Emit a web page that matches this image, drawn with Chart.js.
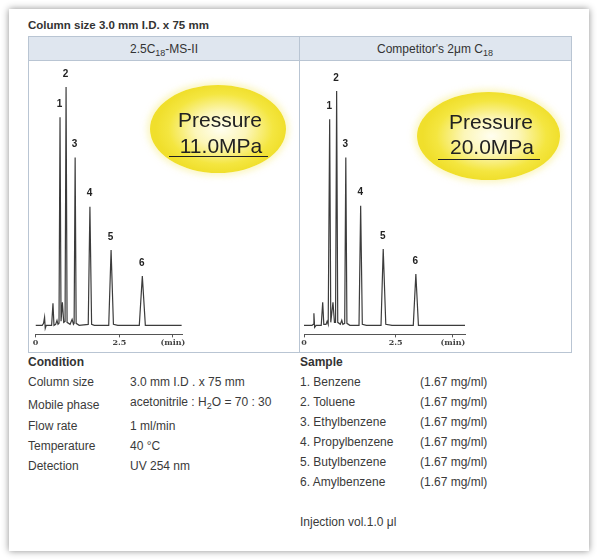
<!DOCTYPE html>
<html>
<head>
<meta charset="utf-8">
<script src="https://cdn.jsdelivr.net/npm/chart.js@4/dist/chart.umd.min.js"></script>
<style>
  body { margin: 0; background: #fff; font-family: Arial, "Liberation Sans", sans-serif; color: #333; }
  #page { position: relative; width: 599px; height: 560px; overflow: hidden; }
  .card { position: absolute; left: 9px; top: 9px; width: 580px; height: 542px; background: #fff;
          box-shadow: 0 0 7px rgba(0,0,0,0.45); }
  .abs { position: absolute; white-space: nowrap; line-height: 14px; }
  .tbl { position: absolute; left: 28px; top: 36px; width: 542px; height: 315px; border: 1px solid #b9c5d3; }
  .head { position: absolute; left: 0; top: 0; width: 542px; height: 23px; background: #dfe6ef; border-bottom: 1px solid #b9c5d3; }
  .divider { position: absolute; left: 270px; top: 0; width: 1px; height: 315px; background: #b9c5d3; }
  .hcell { position: absolute; top: 5px; width: 270px; text-align: center; font-size: 12px; color: #333; line-height: 14px; }
  sub { font-size: 9px; vertical-align: -3px; line-height: 0; }
  canvas { position: absolute; }
  .oval { position: absolute; border-radius: 50%;
          background: radial-gradient(ellipse closest-side at 52% 50%, #fffef0 0%, #fcf6b8 40%, #f4e640 80%, #f0df2c 100%);
          box-shadow: 0 0 6px 3px rgba(250,242,170,0.7); }
  .ptxt { position: absolute; font-size: 21px; color: #222; text-align: center; line-height: 22px; }
  .uline { position: absolute; height: 1px; background: #222; }
  .body12 { font-size: 12px; color: #3a3a3a; }
  .bold { font-weight: bold; color: #333; }
</style>
</head>
<body>
<div id="page">
  <div class="card"></div>
  <div class="abs bold" style="left:28px; top:18px; font-size:11.5px;">Column size 3.0 mm I.D. x 75 mm</div>

  <div class="tbl">
    <div class="head"></div>
    <div class="divider"></div>
    <div class="hcell" style="left:0;">2.5C<sub>18</sub>-MS-II</div>
    <div class="hcell" style="left:271px;">Competitor's 2μm C<sub>18</sub></div>
  </div>

  <canvas id="leftChart" width="269" height="291" style="left:29px; top:61px;"></canvas>
  <canvas id="rightChart" width="271" height="291" style="left:299px; top:61px;"></canvas>

  <div class="oval" style="left:150px; top:85px; width:136px; height:88px;"></div>
  <div class="ptxt" style="left:150px; top:109px; width:140px;">Pressure</div>
  <div class="ptxt" style="left:150px; top:135px; width:142px;">11.0MPa</div>
  <div class="uline" style="left:169px; top:156px; width:99px;"></div>

  <div class="oval" style="left:417px; top:92px; width:143px; height:88px;"></div>
  <div class="ptxt" style="left:420px; top:111px; width:142px;">Pressure</div>
  <div class="ptxt" style="left:420px; top:136px; width:144px;">20.0MPa</div>
  <div class="uline" style="left:438px; top:159px; width:102px;"></div>

  <div class="abs bold" style="left:28px; top:355px; font-size:12px;">Condition</div>
  <div class="abs body12" style="left:28px; top:375px;">Column size</div>
  <div class="abs body12" style="left:130px; top:375px;">3.0 mm I.D . x 75 mm</div>
  <div class="abs body12" style="left:28px; top:398px;">Mobile phase</div>
  <div class="abs body12" style="left:130px; top:395px;">acetonitrile : H<sub>2</sub>O = 70 : 30</div>
  <div class="abs body12" style="left:28px; top:419px;">Flow rate</div>
  <div class="abs body12" style="left:130px; top:419px;">1 ml/min</div>
  <div class="abs body12" style="left:28px; top:439px;">Temperature</div>
  <div class="abs body12" style="left:130px; top:439px;">40 °C</div>
  <div class="abs body12" style="left:28px; top:459px;">Detection</div>
  <div class="abs body12" style="left:130px; top:459px;">UV 254 nm</div>

  <div class="abs bold" style="left:300px; top:355px; font-size:12px;">Sample</div>
  <div id="samples"></div>
  <div class="abs body12" style="left:300px; top:515px;">Injection vol.1.0 μl</div>
</div>

<script>
// sample list
const sampleNames = ['1. Benzene', '2. Toluene', '3. Ethylbenzene', '4. Propylbenzene', '5. Butylbenzene', '6. Amylbenzene'];
const sampleConc = ['(1.67 mg/ml)', '(1.67 mg/ml)', '(1.67 mg/ml)', '(1.67 mg/ml)', '(1.67 mg/ml)', '(1.67 mg/ml)'];

// 2.5C18-MS-II trace (time in min, signal)
const leftTime   = [0, 0.20, 0.24, 0.27, 0.29, 0.32, 0.48, 0.52, 0.55, 0.60, 0.64, 0.67, 0.70, 0.73, 0.76, 0.80, 0.84, 0.88, 0.91, 0.94, 1.03, 1.09, 1.13, 1.15, 1.18, 1.21, 1.30, 1.57, 1.62, 1.67, 1.75, 2.18, 2.25, 2.32, 2.45, 3.09, 3.18, 3.27, 3.50, 4.35];
const leftSignal = [0, 0, 2, 8, -3, 0, 0, 22, 0, 1, 5, 1, 2, 207, 4, 23, 3, 4, 237, 3, 1, 6, 1, 2, 167, 2, 0, 1, 118, 1, 0, 0, 75, 1, 0, 0, 49, 0, 0, 0];
const leftPeakTime   = [0.73, 0.91, 1.18, 1.62, 2.25, 3.18];
const leftPeakHeight = [207, 237, 167, 118, 75, 49];

// Competitor's 2um C18 trace
const rightTime   = [0, 0.22, 0.25, 0.27, 0.29, 0.33, 0.47, 0.51, 0.54, 0.60, 0.63, 0.66, 0.67, 0.70, 0.73, 0.79, 0.83, 0.86, 0.89, 0.92, 0.99, 1.03, 1.06, 1.11, 1.14, 1.17, 1.25, 1.50, 1.545, 1.59, 1.70, 2.10, 2.16, 2.23, 2.40, 2.98, 3.05, 3.12, 3.40, 4.39];
const rightSignal = [0, 0, 1, 12, -2, 0, 0, 23, 1, 1, 4, 1, 1, 205, 3, 23, 3, 3, 233, 3, 1, 5, 1, 2, 167, 2, 0, 0, 119, 1, 0, 0, 76, 1, 0, 0, 51, 0, 0, 0];
const rightPeakTime   = [0.70, 0.89, 1.14, 1.545, 2.16, 3.05];
const rightPeakHeight = [205, 233, 167, 119, 76, 51];

const leftTicks = [0, 2.5, 4.09];
const rightTicks = [0, 2.5, 4.06];
const tickLabels = ['0', '2.5', '(min)'];

const rows = document.getElementById('samples');
sampleNames.forEach((name, i) => {
  const top = 375 + i * 20;
  rows.insertAdjacentHTML('beforeend',
    '<div class="abs body12" style="left:300px; top:' + top + 'px;">' + name + '</div>' +
    '<div class="abs body12" style="left:420px; top:' + top + 'px;">' + sampleConc[i] + '</div>');
});

const peakLabels = {
  id: 'peakLabels',
  afterDatasetsDraw(chart, args, opts) {
    const { ctx, scales: { x, y } } = chart;
    ctx.save();
    ctx.font = 'bold 10px Arial';
    ctx.fillStyle = '#222';
    ctx.textAlign = 'center';
    ctx.textBaseline = 'middle';
    opts.times.forEach((t, i) => {
      ctx.fillText(String(i + 1), x.getPixelForValue(t) - 0.5, y.getPixelForValue(opts.heights[i]) - 13);
    });
    ctx.restore();
  }
};

function makeChart(id, times, signal, peakT, peakH, ticks, xmax, padLeft, padRight) {
  return new Chart(document.getElementById(id), {
    type: 'line',
    data: {
      datasets: [{
        data: times.map((t, i) => ({ x: t, y: signal[i] })),
        borderColor: '#3c3c3c',
        borderWidth: 1.2,
        pointRadius: 0,
        tension: 0,
        fill: false
      }]
    },
    options: {
      responsive: false,
      animation: false,
      layout: { padding: { left: padLeft, right: padRight, top: 10, bottom: 3 } },
      plugins: {
        legend: { display: false },
        tooltip: { enabled: false },
        peakLabels: { times: peakT, heights: peakH }
      },
      scales: {
        x: {
          type: 'linear',
          min: 0,
          max: xmax,
          afterBuildTicks: s => { s.ticks = ticks.map(v => ({ value: v })); },
          ticks: {
            autoSkip: false,
            maxRotation: 0,
            padding: 1,
            color: '#444',
            font: { family: 'DejaVu Serif', size: 8, weight: 'bold' },
            callback: (v, i) => tickLabels[i]
          },
          grid: { drawOnChartArea: false, tickLength: 3, color: '#555' },
          border: { display: true, color: '#555', width: 1 }
        },
        y: { display: false, min: -9, max: 253 }
      }
    },
    plugins: [peakLabels]
  });
}

makeChart('leftChart', leftTime, leftSignal, leftPeakTime, leftPeakHeight, leftTicks, 4.37, 6.5, 115.7);
makeChart('rightChart', rightTime, rightSignal, rightPeakTime, rightPeakHeight, rightTicks, 4.39, 5, 105);
</script>
</body>
</html>
